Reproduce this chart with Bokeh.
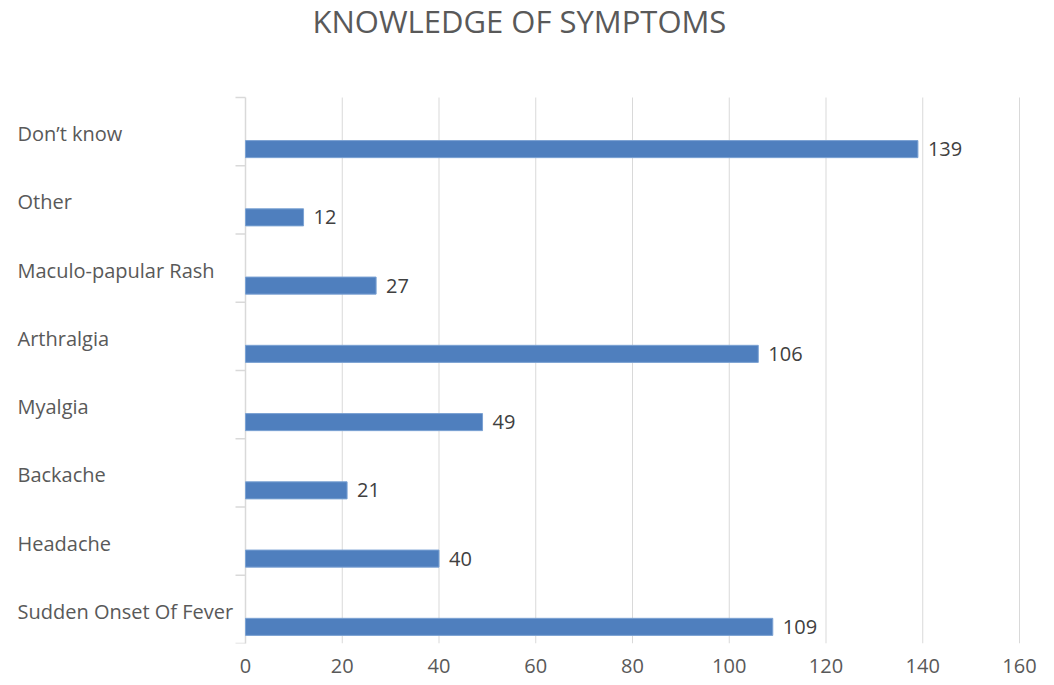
from bokeh.plotting import figure
from bokeh.models import Range1d, FixedTicker, Label
from bokeh.core.properties import value
from bokeh.embed import file_html
from bokeh.resources import INLINE

# Data (bottom to top)
categories = ["Sudden Onset Of Fever", "Headache", "Backache", "Myalgia",
              "Arthralgia", "Maculo-papular Rash", "Other", "Don\u2019t know"]
counts = [109, 40, 21, 49, 106, 27, 12, 139]
x_ticks = [0, 20, 40, 60, 80, 100, 120, 140, 160]
title_text = "KNOWLEDGE OF SYMPTOMS"

FONT = "Open Sans"
GREY = "#595959"
LINE = "#D9D9D9"

W, H = 1054, 685
FRAME_L, FRAME_R = 13, 1043
PLOT_T, PLOT_B = 97, 643          # chart area (category bands) in pixels
n = len(categories)
band_px = (PLOT_B - PLOT_T) / n
px_per_unit = (1019 - 245) / 160.0
x_start = -(245 - FRAME_L) / px_per_unit
x_end = 160 + (FRAME_R - 1019) / px_per_unit
y_top = (n - 0.5) + PLOT_T / band_px   # frame reaches the top of the canvas (room for title)

p = figure(width=W, height=H, output_backend="svg", toolbar_location=None,
           x_range=Range1d(x_start, x_end), y_range=Range1d(-0.5, y_top),
           y_axis_location=None,
           min_border_left=FRAME_L, min_border_right=W - FRAME_R,
           min_border_top=0, min_border_bottom=H - PLOT_B)
p.outline_line_color = None
p.background_fill_color = "white"
p.border_fill_color = "white"

# title
p.add_layout(Label(x=312 - FRAME_L, y=(n - 0.5) + (PLOT_T - 20) / band_px,
                   x_units="screen", y_units="data",
                   text=title_text, text_font=FONT, text_font_size="31px",
                   text_color=GREY, text_align="left", text_baseline="middle"))

# x axis (labels only)
ticker = FixedTicker(ticks=x_ticks)
p.xaxis.ticker = ticker
p.xgrid.grid_line_color = None
p.ygrid.grid_line_color = None
p.xaxis.axis_line_color = None
p.xaxis.major_tick_line_color = None
p.xaxis.minor_tick_line_color = None
p.xaxis.major_tick_out = 0
p.xaxis.major_tick_in = 0
p.xaxis.major_label_standoff = 15
p.xaxis.major_label_text_font = FONT
p.xaxis.major_label_text_font_size = "20px"
p.xaxis.major_label_text_color = GREY

# vertical gridlines limited to the chart area
grid_x = [t for t in x_ticks if t != 0]
p.segment(x0=grid_x, y0=[-0.5] * len(grid_x), x1=grid_x, y1=[n - 0.5] * len(grid_x),
          line_color=LINE, line_width=1)

idx = list(range(n))
bar_y = [i - 0.256 for i in idx]
label_y = [i - 0.03 for i in idx]

# vertical axis line at 0 with tick marks between categories
p.segment(x0=[0], y0=[-0.53], x1=[0], y1=[n - 0.5], line_color=LINE, line_width=1.5)
bounds = [i - 0.5 for i in range(n + 1)]
tick_len = 10 / px_per_unit
p.segment(x0=[-tick_len] * len(bounds), y0=bounds, x1=[0] * len(bounds), y1=bounds,
          line_color=LINE, line_width=1.5)

# bars
p.hbar(y=bar_y, left=0, right=counts, height=0.25,
       fill_color="#4F7FBE", line_color="#7BA2D3", line_width=1)

# value labels
p.text(x=counts, y=bar_y, text=[str(c) for c in counts], x_offset=10,
       text_font=value(FONT), text_font_size="20px", text_color="#404040",
       text_baseline="middle", text_align="left")

# category labels (left aligned, above each bar)
label_x = (17 - 245) / px_per_unit
p.text(x=[label_x] * n, y=label_y, text=categories,
       text_font=value(FONT), text_font_size="20px", text_color=GREY,
       text_baseline="middle", text_align="left")

open("out.html", "w").write(file_html(p, INLINE))
